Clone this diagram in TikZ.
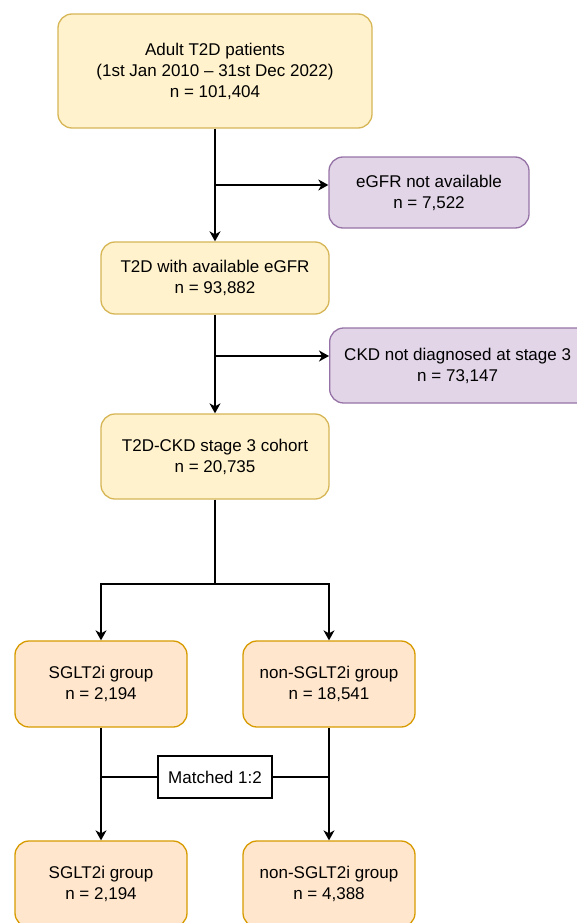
\documentclass[tikz,border=0pt]{standalone}
\usepackage{fontspec}
\setmainfont{Liberation Sans}
\usetikzlibrary{arrows.meta}
\definecolor{ylwfill}{HTML}{FFF2CC}
\definecolor{ylwline}{HTML}{D6B656}
\definecolor{prpfill}{HTML}{E1D5E7}
\definecolor{prpline}{HTML}{9673A6}
\definecolor{orgfill}{HTML}{FFE6CC}
\definecolor{orgline}{HTML}{D79B00}
\tikzset{
  flowbox/.style={rectangle, rounded corners=14pt, line width=1.3pt, inner sep=0pt,
    align=center, font=\fontsize{17}{21}\selectfont},
  ybox/.style={flowbox, fill=ylwfill, draw=ylwline},
  pbox/.style={flowbox, fill=prpfill, draw=prpline},
  obox/.style={flowbox, fill=orgfill, draw=orgline},
  matchbox/.style={rectangle, draw=black, fill=white, line width=1.3pt, inner sep=0pt,
    font=\fontsize{17}{21}\selectfont},
  link/.style={line width=1.4pt, draw=black},
  flow/.style={link, -{Stealth[length=10pt,width=11pt,inset=3pt]}}
}
\begin{document}
\begin{tikzpicture}[x=1pt,y=-1pt]
\useasboundingbox (0,0) rectangle (576,923);

% main cohort chain
\node[ybox, minimum width=314pt, minimum height=114pt] (all) at (215,71)
  {Adult T2D patients\\(1st Jan 2010 -- 31st Dec 2022)\\n = 101,404};
\node[ybox, minimum width=228pt, minimum height=72pt] (egfr) at (215,278)
  {T2D with available eGFR\\n = 93,882};
\node[ybox, minimum width=228pt, minimum height=85pt] (ckd) at (215,456.5)
  {T2D-CKD stage 3 cohort\\n = 20,735};

% exclusions (the second box runs past the right edge of the page)
\node[pbox, minimum width=200pt, minimum height=71pt] (noegfr) at (429,192.5)
  {eGFR not available\\n = 7,522};
\node[pbox, minimum width=280pt, minimum height=75pt, anchor=west] (nockd) at (329,365.5)
  {CKD not diagnosed at stage 3\hspace*{24pt}\\n = 73,147\hspace*{24pt}};

% treatment groups
\node[obox, minimum width=172pt, minimum height=86pt] (sglt) at (101,684)
  {SGLT2i group\\n = 2,194};
\node[obox, minimum width=172pt, minimum height=86pt] (nonsglt) at (329,684)
  {non-SGLT2i group\\n = 18,541};

% matched groups
\node[obox, minimum width=172pt, minimum height=86pt] (msglt) at (101,884)
  {SGLT2i group\\n = 2,194};
\node[obox, minimum width=172pt, minimum height=86pt] (mnonsglt) at (329,884)
  {non-SGLT2i group\\n = 4,388};

\node[matchbox, minimum width=114pt, minimum height=42pt] (match) at (215,777)
  {Matched 1:2};

% connectors
\coordinate (b1) at (215,185);
\coordinate (b2) at (215,356);
\coordinate (split) at (215,584);
\draw[flow] (all) -- (egfr);
\draw[flow] (b1) -- (noegfr.west |- b1);
\draw[flow] (egfr) -- (ckd);
\draw[flow] (b2) -- (nockd.west |- b2);
\draw[link] (ckd) -- (split);
\draw[flow] (split) -| (sglt.north);
\draw[flow] (split) -| (nonsglt.north);
\draw[flow] (sglt) -- (msglt);
\draw[flow] (nonsglt) -- (mnonsglt);
\draw[link] (match.west) -- (sglt.south |- match.west);
\draw[link] (match.east) -- (nonsglt.south |- match.east);
\end{tikzpicture}
\end{document}
